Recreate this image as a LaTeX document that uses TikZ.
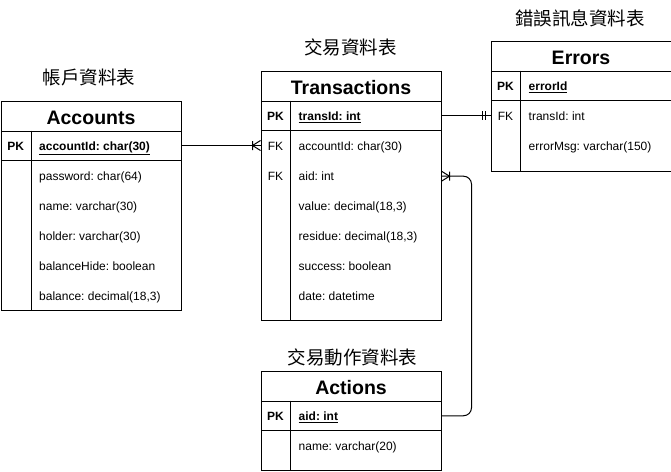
\documentclass[tikz,border=0pt]{standalone}
\usepackage{fontspec}
\setmainfont{Liberation Sans}
\newfontfamily\cjk{Noto Sans CJK TC}
\usepackage{tikz}
\usetikzlibrary{positioning}
\frenchspacing

\tikzset{
  tblbox/.style={draw, line width=1pt, inner sep=0pt, anchor=north west, minimum width=180pt},
  tblname/.style={font=\bfseries\fontsize{19.5}{20}\selectfont, text height=17pt, text depth=0pt},
  tbltitle/.style={font=\cjk\fontsize{18.5}{20}\selectfont, anchor=base, inner sep=0pt},
  keytag/.style={font=\fontsize{12}{14}\selectfont, anchor=base, inner sep=0pt},
  pktag/.style={keytag, font=\bfseries\fontsize{12}{14}\selectfont},
  field/.style={font=\fontsize{12}{14}\selectfont, anchor=base west, inner sep=0pt, text height=8.6pt, text depth=0pt},
  tblline/.style={line width=1pt},
  erline/.style={line width=1pt},
  crowfoot/.pic={\draw[erline, sharp corners] (0,-5) -- (-8,0) -- (0,5) (-8,-4.5) -- (-8,4.5);},
  twobar/.pic={\draw[erline, sharp corners] (-8,-4.5) -- (-8,4.5) (-5,-4.5) -- (-5,4.5);}
}
\newcommand{\pkfield}[1]{\underline{\textbf{#1}}}

\begin{document}
\begin{tikzpicture}[x=1pt,y=-1pt]
\useasboundingbox (0,0) rectangle (671,471);
% Accounts
\node[tbltitle] (accTitle) at (89,84) {帳戶資料表};
\node[tblbox, tblname, minimum height=30pt] (accHead) at (0.5,100.5) {Accounts};
\node[tblbox, minimum height=29pt] (accPK) at (0.5,130.5) {};
\node[tblbox, minimum height=150pt] (accBody) at (0.5,159.5) {};
\draw[tblline] (31,130.5) -- (31,309.5);
\node[pktag] (accPKtag) at (15.75,150.5) {PK};
\node[field] (accKey) at (39,150.5) {\pkfield{accountId: char(30)}};
\node[field] (accPass) at (39,180.5) {password: char(64)};
\node[field] (accName) at (39,210.5) {name: varchar(30)};
\node[field] (accHolder) at (39,240.5) {holder: varchar(30)};
\node[field] (accHide) at (39,270.5) {balanceHide: boolean};
\node[field] (accBal) at (39,300.5) {balance: decimal(18,3)};
% Transactions
\node[tbltitle] (trTitle) at (350.5,54) {交易資料表};
\node[tblbox, tblname, minimum height=30pt] (trHead) at (260.5,70.5) {Transactions};
\node[tblbox, minimum height=29.5pt] (trPK) at (260.5,100.5) {};
\node[tblbox, minimum height=190pt] (trBody) at (260.5,130) {};
\draw[tblline] (290.5,100.5) -- (290.5,320);
\node[pktag] (trPKtag) at (275.5,120.5) {PK};
\node[keytag] (trFKacc) at (275.5,150.5) {FK};
\node[keytag] (trFKaid) at (275.5,180.5) {FK};
\node[field] (trKey) at (298.5,120.5) {\pkfield{transId: int}};
\node[field] (trAcc) at (298.5,150.5) {accountId: char(30)};
\node[field] (trAid) at (298.5,180.5) {aid: int};
\node[field] (trValue) at (298.5,210.5) {value: decimal(18,3)};
\node[field] (trResidue) at (298.5,240.5) {residue: decimal(18,3)};
\node[field] (trSuccess) at (298.5,270.5) {success: boolean};
\node[field] (trDate) at (298.5,300.5) {date: datetime};
% Errors
\node[tbltitle] (errTitle) at (580,25.7) {錯誤訊息資料表};
\node[tblbox, tblname, minimum height=30pt] (errHead) at (490.5,40.5) {Errors};
\node[tblbox, minimum height=29.5pt] (errPK) at (490.5,70.5) {};
\node[tblbox, minimum height=70.5pt] (errBody) at (490.5,100) {};
\draw[tblline] (520.5,70.5) -- (520.5,170.5);
\node[pktag] (errPKtag) at (505.5,90.5) {PK};
\node[keytag] (errFKtr) at (505.5,120.5) {FK};
\node[field] (errKey) at (528.5,90.5) {\pkfield{errorId}};
\node[field] (errTrans) at (528.5,120.5) {transId: int};
\node[field] (errMsg) at (528.5,150.5) {errorMsg: varchar(150)};
% Actions
\node[tbltitle] (actTitle) at (352.5,364) {交易動作資料表};
\node[tblbox, tblname, minimum height=30pt] (actHead) at (260.5,370.5) {Actions};
\node[tblbox, minimum height=29.5pt] (actPK) at (260.5,400.5) {};
\node[tblbox, minimum height=40pt] (actBody) at (260.5,430) {};
\draw[tblline] (290.5,400.5) -- (290.5,470);
\node[pktag] (actPKtag) at (275.5,420.5) {PK};
\node[field] (actKey) at (298.5,420.5) {\pkfield{aid: int}};
\node[field] (actName) at (298.5,450.5) {name: varchar(20)};
% Relations
\draw[erline] (accPK.east) -- (accPK.east -| trBody.west) pic {crowfoot};
\draw[erline] (trPK.east) -- (trPK.east -| errBody.west) pic {twobar};
\draw[erline, rounded corners=8pt] (actPK.east) -- ++(30,0) |- (trAid.west -| trBody.east) pic[rotate=180] {crowfoot};
\end{tikzpicture}
\end{document}
